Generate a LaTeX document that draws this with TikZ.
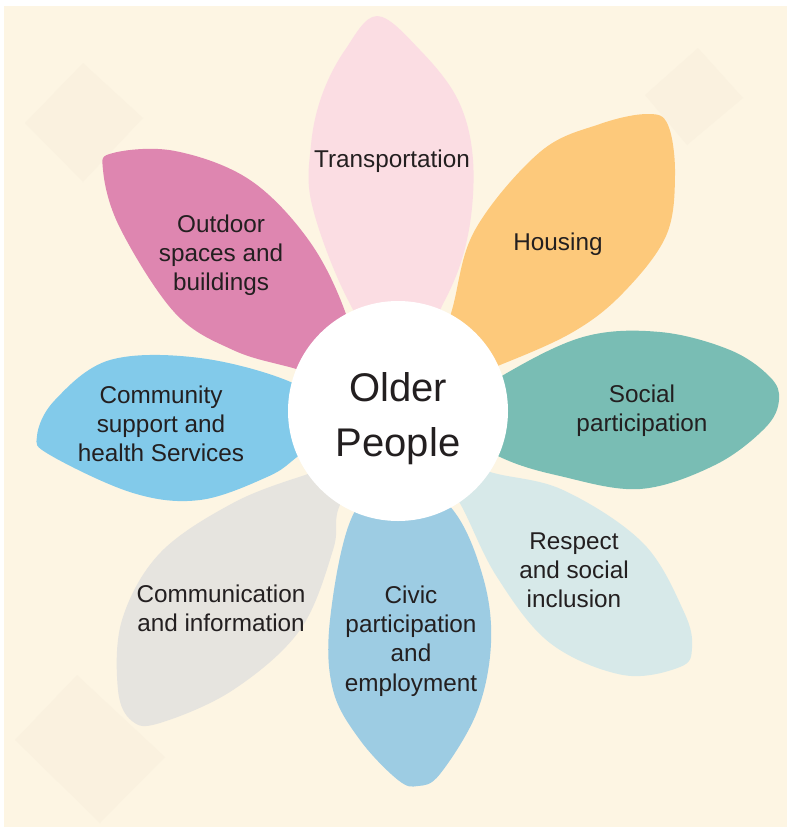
\documentclass[tikz,border=0pt]{standalone}
\usepackage{fontspec}
\setmainfont{Liberation Sans}

\definecolor{cream}{HTML}{FDF5E3}
\definecolor{creamdark}{HTML}{FAF1DF}
\definecolor{ink}{HTML}{231F20}
\definecolor{transportpink}{HTML}{FBDDE3}
\definecolor{housingorange}{HTML}{FDC97B}
\definecolor{socialteal}{HTML}{79BDB4}
\definecolor{respectmist}{HTML}{D7E9E9}
\definecolor{civicblue}{HTML}{9DCCE3}
\definecolor{commgrey}{HTML}{E6E4DF}
\definecolor{communitysky}{HTML}{82CAEA}
\definecolor{outdoormagenta}{HTML}{DE86B0}

\begin{document}
\begin{tikzpicture}[x=1pt,y=-1pt]
      \tikzstyle{every node}=[text=ink,align=center,inner sep=0pt,font=\fontsize{24.3}{29.2}\selectfont];
      \tikzstyle{petal}=[smooth cycle,tension=0.6];
        \useasboundingbox (0,0) rectangle (787,827);

        % paper and faint diamonds
        \path[fill=cream] (4,6) rectangle (787,827);
        \path[fill=creamdark] (25,123) -- (83,63) -- (143,118) -- (83,182) -- cycle;
        \path[fill=creamdark] (645,95) -- (698,48) -- (743,98) -- (687,145) -- cycle;
        \path[fill=creamdark] (15,740) -- (77,675) -- (165,757) -- (100,823) -- cycle;

        % petals
        \path[fill=transportpink] plot[petal] coordinates {(398,370) (348,300) (312,205) (311,145) (322,95) (345,50) (377,16) (420,50) (458,100) (473,160) (468,235) (445,300)};
        \path[fill=housingorange] plot[petal] coordinates {(430,390) (452,310) (475,230) (540,152) (600,124) (648,114) (668,125) (675,175) (666,236) (623,293) (573,332) (500,365)};
        \path[fill=socialteal] plot[petal] coordinates {(440,420) (500,377) (583,337) (660,332) (730,350) (770,377) (779,400) (765,428) (715,465) (640,489) (560,476) (500,457)};
        \path[fill=respectmist] plot[petal] coordinates {(430,450) (490,472) (563,490) (643,543) (684,612) (692,648) (680,667) (623,675) (550,643) (497,577) (462,507)};
        \path[fill=civicblue] plot[petal] coordinates {(398,470) (453,510) (483,577) (491,643) (477,712) (440,774) (418,786) (398,780) (360,740) (333,690) (330,620) (352,517)};
        \path[fill=commgrey] plot[petal] coordinates {(360,460) (305,475) (233,503) (160,553) (122,620) (118,690) (132,721) (160,723) (233,690) (300,630) (333,550) (338,510)};
        \path[fill=communitysky] plot[petal] coordinates {(340,420) (293,383) (200,358) (110,360) (55,400) (37,436) (50,455) (133,493) (200,500) (267,477) (297,457)};
        \path[fill=outdoormagenta] plot[petal] coordinates {(360,385) (347,317) (310,242) (250,180) (175,151) (113,153) (103,170) (120,228) (175,313) (233,350) (293,368)};

        % centre
        \node[circle,fill=white,minimum size=220pt] (hub) at (398,411) {};
        \node[font=\fontsize{40}{55}\selectfont] (older) at (398,419) {Older\\People};

        \node (transport) at (392,161) {Transportation};
        \node (housing) at (558,244) {Housing};
        \node (social) at (642,411) {Social\\participation};
        \node (respect) at (574,570) {Respect\\and social\\inclusion};
        \node (civic) at (411,641) {Civic\\participation\\and\\employment};
        \node (communication) at (221,608) {Communication\\and information};
        \node (community) at (161,424) {Community\\support and\\health Services};
        \node (outdoor) at (221,255) {Outdoor\\spaces and\\buildings};
    \end{tikzpicture}
\end{document}
